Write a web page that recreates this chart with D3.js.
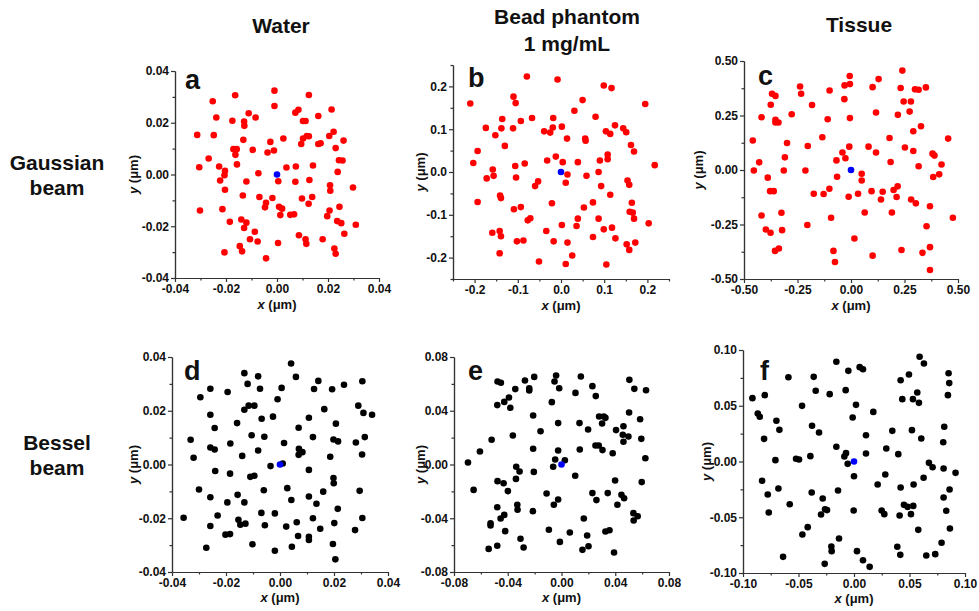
<!DOCTYPE html>
<html>
<head>
<meta charset="utf-8">
<script src="https://cdn.jsdelivr.net/npm/d3@7"></script>
<style>
  body { margin: 0; background: #fff; }
  svg text { font-family: Arial, "Liberation Sans", sans-serif; font-weight: bold; fill: #111; }
</style>
</head>
<body>
<div id="my_dataviz"></div>
<script>
// column / row labels
const columnTitles = [["Water"], ["Bead phantom", "1 mg/mL"], ["Tissue"]]
const rowTitles = [["Gaussian", "beam"], ["Bessel", "beam"]]
const panelLetters = ["a", "b", "c", "d", "e", "f"]

// tick values
const ticksA = [-0.04, -0.02, 0, 0.02, 0.04]
const minorA = [-0.03, -0.01, 0.01, 0.03]
const ticksB = [-0.2, -0.1, 0, 0.1, 0.2]
const minorB = [-0.25, -0.15, -0.05, 0.05, 0.15, 0.25]
const ticksC = [-0.5, -0.25, 0, 0.25, 0.5]
const minorC = [-0.375, -0.125, 0.125, 0.375]
const ticksE = [-0.08, -0.04, 0, 0.04, 0.08]
const minorE = [-0.06, -0.02, 0.02, 0.06]
const ticksF = [-0.1, -0.05, 0, 0.05, 0.1]
const minorF = [-0.075, -0.025, 0.025, 0.075]

// localisation points [x, y] in um
const waterGauss = [
  [-0.0010, 0.0324], [-0.0164, 0.0306], [0.0125, 0.0307], [-0.0252, 0.0283], [-0.0010, 0.0265],
  [0.0214, 0.0251], [0.0084, 0.0250], [0.0072, 0.0239], [-0.0111, 0.0237], [-0.0238, 0.0220],
  [-0.0084, 0.0220], [0.0162, 0.0226], [-0.0175, 0.0208], [-0.0129, 0.0205], [0.0102, 0.0207],
  [0.0112, 0.0207], [-0.0128, 0.0188], [-0.0313, 0.0153], [-0.0248, 0.0152], [0.0222, 0.0165],
  [0.0205, 0.0149], [0.0117, 0.0149], [0.0125, 0.0148], [0.0102, 0.0139], [0.0025, 0.0139],
  [-0.0132, 0.0134], [0.0261, 0.0131], [-0.0026, 0.0126], [0.0162, 0.0118], [0.0171, 0.0121],
  [0.0095, 0.0118], [-0.0171, 0.0098], [-0.0158, 0.0098], [-0.0095, 0.0095], [-0.0012, 0.0093],
  [-0.0037, 0.0085], [0.0230, 0.0102], [-0.0163, 0.0076], [-0.0268, 0.0062], [0.0243, 0.0055],
  [0.0257, 0.0054], [-0.0157, 0.0039], [0.0141, 0.0035], [-0.0305, 0.0028], [-0.0227, 0.0031],
  [0.0037, 0.0027], [0.0074, 0.0031], [-0.0204, 0.0014], [0.0238, 0.0010], [-0.0073, 0.0005],
  [-0.0206, -0.0003], [-0.0223, -0.0023], [0.0127, -0.0021], [0.0005, -0.0026], [-0.0120, -0.0027],
  [0.0072, -0.0028], [0.0208, -0.0042], [0.0298, -0.0050], [0.0209, -0.0063], [-0.0204, -0.0059],
  [-0.0134, -0.0081], [-0.0069, -0.0087], [0.0138, -0.0087], [-0.0018, -0.0091], [0.0098, -0.0093],
  [-0.0043, -0.0109], [0.0124, -0.0113], [-0.0047, -0.0127], [0.0008, -0.0125], [0.0020, -0.0132],
  [-0.0302, -0.0139], [-0.0214, -0.0134], [0.0206, -0.0139], [0.0245, -0.0125], [0.0013, -0.0157],
  [0.0052, -0.0156], [0.0067, -0.0154], [0.0197, -0.0161], [-0.0140, -0.0174], [-0.0185, -0.0183],
  [-0.0120, -0.0186], [0.0236, -0.0180], [0.0252, -0.0188], [0.0309, -0.0194], [-0.0129, -0.0207],
  [-0.0087, -0.0221], [0.0264, -0.0229], [0.0086, -0.0235], [-0.0106, -0.0250], [-0.0076, -0.0259],
  [0.0112, -0.0250], [0.0115, -0.0268], [0.0004, -0.0265], [0.0179, -0.0250], [-0.0146, -0.0277],
  [0.0225, -0.0286], [-0.0206, -0.0301], [-0.0137, -0.0297], [0.0230, -0.0306], [-0.0043, -0.0324]
]
const beadGauss = [
  [-0.079, 0.223], [-0.008, 0.216], [-0.210, 0.160], [0.099, 0.202], [0.117, 0.196],
  [0.195, 0.159], [-0.110, 0.176], [-0.105, 0.161], [0.050, 0.168], [0.031, 0.143],
  [0.080, 0.129], [-0.136, 0.124], [-0.067, 0.126], [-0.018, 0.126], [-0.093, 0.119],
  [-0.174, 0.103], [-0.138, 0.102], [-0.111, 0.102], [-0.019, 0.104], [0.002, 0.106],
  [0.125, 0.109], [0.144, 0.102], [-0.039, 0.095], [-0.025, 0.092], [0.104, 0.095],
  [0.114, 0.089], [0.151, 0.093], [-0.152, 0.086], [0.014, 0.078], [0.056, 0.078],
  [0.057, 0.073], [-0.130, 0.061], [0.162, 0.063], [-0.193, 0.049], [0.169, 0.048],
  [0.108, 0.041], [-0.012, 0.036], [-0.032, 0.027], [0.090, 0.027], [0.108, 0.030],
  [-0.203, 0.021], [-0.084, 0.020], [0.004, 0.023], [0.039, 0.023], [0.217, 0.016],
  [-0.106, 0.014], [-0.158, 0.006], [0.087, 0.000], [-0.156, -0.009], [0.015, -0.006],
  [0.059, -0.009], [-0.104, -0.013], [-0.172, -0.015], [-0.053, -0.022], [0.154, -0.020],
  [0.011, -0.025], [-0.060, -0.033], [0.158, -0.030], [0.093, -0.033], [-0.141, -0.055],
  [-0.139, -0.061], [0.114, -0.053], [-0.193, -0.070], [-0.021, -0.073], [0.074, -0.071],
  [0.164, -0.072], [-0.093, -0.082], [-0.109, -0.087], [0.053, -0.083], [0.159, -0.093],
  [0.166, -0.095], [-0.071, -0.108], [-0.077, -0.113], [0.039, -0.109], [0.087, -0.109],
  [0.169, -0.109], [0.002, -0.124], [0.036, -0.126], [0.203, -0.120], [-0.034, -0.138],
  [0.118, -0.130], [0.099, -0.134], [-0.142, -0.138], [-0.159, -0.142], [-0.139, -0.150],
  [0.074, -0.152], [0.126, -0.155], [-0.102, -0.162], [-0.087, -0.160], [-0.017, -0.162],
  [0.015, -0.165], [0.152, -0.169], [0.172, -0.165], [0.158, -0.182], [-0.142, -0.190],
  [0.026, -0.195], [-0.051, -0.209], [0.011, -0.215], [0.105, -0.216]
]
const tissueGauss = [
  [0.240, 0.456], [-0.006, 0.431], [0.129, 0.417], [-0.005, 0.394], [-0.030, 0.388],
  [-0.238, 0.383], [0.101, 0.380], [0.232, 0.376], [0.299, 0.370], [0.316, 0.368],
  [0.350, 0.379], [-0.100, 0.365], [-0.369, 0.350], [-0.233, 0.350], [-0.353, 0.340],
  [-0.031, 0.325], [0.246, 0.314], [0.280, 0.314], [-0.375, 0.299], [-0.182, 0.298],
  [0.274, 0.268], [0.117, 0.264], [-0.277, 0.256], [0.219, 0.253], [-0.418, 0.242],
  [-0.005, 0.238], [-0.109, 0.233], [-0.353, 0.230], [-0.353, 0.218], [-0.339, 0.218],
  [0.327, 0.201], [0.291, 0.178], [-0.134, 0.150], [0.180, 0.147], [0.454, 0.144],
  [-0.459, 0.135], [-0.299, 0.124], [-0.202, 0.110], [-0.008, 0.107], [0.082, 0.107],
  [0.252, 0.103], [0.291, 0.087], [0.117, 0.080], [-0.040, 0.080], [0.381, 0.075],
  [0.390, 0.066], [-0.309, 0.058], [-0.026, 0.054], [-0.068, 0.044], [0.185, 0.037],
  [-0.429, 0.035], [0.423, 0.025], [0.316, 0.017], [-0.454, -0.002], [-0.314, -0.002],
  [-0.213, -0.002], [0.050, -0.017], [0.412, -0.020], [-0.065, -0.031], [0.384, -0.032],
  [-0.389, -0.035], [0.050, -0.048], [0.218, -0.075], [-0.101, -0.086], [0.199, -0.092],
  [-0.378, -0.097], [-0.361, -0.097], [0.096, -0.097], [0.148, -0.100], [-0.174, -0.109],
  [-0.128, -0.110], [0.033, -0.109], [-0.011, -0.123], [0.213, -0.124], [0.140, -0.135],
  [0.281, -0.135], [0.303, -0.153], [0.369, -0.166], [-0.325, -0.196], [0.064, -0.195],
  [0.191, -0.195], [-0.418, -0.209], [-0.093, -0.219], [0.476, -0.219], [-0.204, -0.252],
  [0.353, -0.258], [-0.398, -0.273], [-0.322, -0.276], [-0.376, -0.288], [0.016, -0.314],
  [0.369, -0.354], [-0.337, -0.360], [-0.355, -0.371], [-0.082, -0.371], [0.236, -0.367],
  [0.334, -0.380], [0.101, -0.393], [-0.075, -0.422], [0.369, -0.459]
]
const waterBessel = [
  [0.0041, 0.0376], [-0.0132, 0.0340], [-0.0081, 0.0328], [0.0059, 0.0326], [0.0142, 0.0311],
  [0.0305, 0.0310], [-0.0120, 0.0300], [0.0237, 0.0297], [-0.0258, 0.0282], [-0.0074, 0.0282],
  [0.0006, 0.0285], [0.0126, 0.0281], [0.0193, 0.0280], [-0.0194, 0.0270], [-0.0295, 0.0250],
  [-0.0009, 0.0243], [-0.0116, 0.0219], [-0.0095, 0.0219], [-0.0132, 0.0204], [0.0290, 0.0219],
  [0.0164, 0.0206], [0.0309, 0.0192], [0.0341, 0.0185], [-0.0258, 0.0185], [-0.0026, 0.0178],
  [0.0107, 0.0174], [-0.0068, 0.0170], [-0.0159, 0.0154], [0.0207, 0.0152], [-0.0242, 0.0136],
  [0.0069, 0.0137], [-0.0105, 0.0109], [-0.0058, 0.0103], [0.0122, 0.0102], [0.0314, 0.0102],
  [-0.0331, 0.0092], [0.0198, 0.0093], [0.0215, 0.0086], [0.0281, 0.0082], [-0.0184, 0.0078],
  [0.0015, 0.0080], [-0.0258, 0.0063], [-0.0242, 0.0056], [0.0070, 0.0058], [-0.0081, 0.0052],
  [0.0083, 0.0046], [0.0069, 0.0036], [0.0304, 0.0037], [-0.0140, 0.0032], [-0.0320, 0.0025],
  [0.0186, 0.0029], [0.0010, 0.0004], [-0.0035, -0.0006], [-0.0240, -0.0024], [0.0107, -0.0020],
  [-0.0185, -0.0034], [-0.0095, -0.0042], [-0.0110, -0.0046], [0.0198, -0.0050], [0.0199, -0.0070],
  [-0.0300, -0.0093], [0.0027, -0.0088], [-0.0060, -0.0096], [0.0295, -0.0098], [0.0160, -0.0101],
  [-0.0157, -0.0113], [-0.0258, -0.0122], [0.0107, -0.0119], [0.0042, -0.0132], [-0.0195, -0.0141],
  [-0.0132, -0.0141], [0.0135, -0.0146], [0.0214, -0.0165], [-0.0069, -0.0180], [-0.0019, -0.0182],
  [-0.0357, -0.0198], [-0.0231, -0.0190], [0.0122, -0.0200], [0.0305, -0.0199], [-0.0154, -0.0206],
  [-0.0147, -0.0224], [-0.0128, -0.0220], [0.0062, -0.0215], [0.0201, -0.0218], [-0.0258, -0.0229],
  [-0.0056, -0.0226], [0.0023, -0.0231], [0.0149, -0.0239], [0.0278, -0.0244], [-0.0202, -0.0261],
  [-0.0185, -0.0259], [0.0067, -0.0266], [0.0107, -0.0269], [0.0107, -0.0281], [0.0196, -0.0296],
  [-0.0102, -0.0297], [-0.0273, -0.0310], [0.0044, -0.0306], [-0.0019, -0.0321], [0.0205, -0.0353]
]
const beadBessel = [
  [-0.0040, 0.0662], [-0.0272, 0.0625], [-0.0203, 0.0652], [0.0144, 0.0655], [-0.0476, 0.0618],
  [-0.0451, 0.0608], [-0.0052, 0.0618], [0.0505, 0.0630], [0.0230, 0.0583], [-0.0017, 0.0568],
  [-0.0344, 0.0561], [-0.0240, 0.0568], [-0.0240, 0.0551], [0.0542, 0.0563], [0.0629, 0.0553],
  [0.0104, 0.0533], [0.0255, 0.0509], [-0.0391, 0.0499], [-0.0426, 0.0466], [-0.0072, 0.0464],
  [-0.0478, 0.0442], [-0.0381, 0.0422], [0.0503, 0.0387], [-0.0211, 0.0365], [0.0280, 0.0357],
  [0.0315, 0.0357], [0.0327, 0.0347], [0.0585, 0.0337], [-0.0025, 0.0308], [0.0134, 0.0308],
  [0.0302, 0.0305], [0.0461, 0.0285], [0.0198, 0.0260], [0.0406, 0.0256], [-0.0156, 0.0248],
  [-0.0362, 0.0216], [0.0456, 0.0221], [0.0498, 0.0208], [-0.0520, 0.0184], [0.0594, 0.0191],
  [0.0461, 0.0169], [0.0253, 0.0141], [0.0277, 0.0141], [-0.0211, 0.0117], [0.0136, 0.0112],
  [0.0305, 0.0107], [-0.0607, 0.0097], [-0.0025, 0.0104], [0.0381, 0.0084], [0.0624, 0.0047],
  [-0.0047, 0.0037], [0.0025, 0.0032], [-0.0696, 0.0015], [-0.0062, -0.0017], [-0.0337, -0.0017],
  [-0.0312, -0.0052], [-0.0206, -0.0055], [0.0102, -0.0084], [-0.0339, -0.0107], [-0.0476, -0.0124],
  [0.0399, -0.0119], [0.0597, -0.0131], [-0.0431, -0.0139], [-0.0399, -0.0198], [-0.0111, -0.0216],
  [-0.0654, -0.0189], [0.0230, -0.0213], [0.0344, -0.0213], [0.0446, -0.0226], [0.0466, -0.0251],
  [0.0260, -0.0265], [-0.0025, -0.0260], [-0.0057, -0.0300], [0.0416, -0.0300], [-0.0478, -0.0318],
  [-0.0329, -0.0300], [-0.0327, -0.0337], [-0.0213, -0.0347], [0.0535, -0.0362], [0.0567, -0.0385],
  [-0.0426, -0.0375], [-0.0453, -0.0402], [0.0166, -0.0402], [0.0537, -0.0417], [-0.0528, -0.0437],
  [-0.0528, -0.0454], [-0.0094, -0.0486], [0.0357, -0.0489], [0.0327, -0.0499], [0.0062, -0.0506],
  [-0.0419, -0.0496], [0.0191, -0.0528], [-0.0305, -0.0553], [-0.0012, -0.0576], [-0.0478, -0.0605],
  [0.0201, -0.0608], [-0.0542, -0.0628], [-0.0282, -0.0618], [0.0156, -0.0635], [0.0391, -0.0655]
]
const tissueBessel = [
  [0.0591, 0.0939], [0.0630, 0.0879], [-0.0159, 0.0894], [0.0051, 0.0846], [0.0081, 0.0828],
  [-0.0051, 0.0813], [0.0852, 0.0792], [0.0495, 0.0780], [-0.0591, 0.0756], [-0.0363, 0.0759],
  [0.0420, 0.0729], [0.0858, 0.0703], [-0.0345, 0.0634], [-0.0075, 0.0640], [0.0570, 0.0619],
  [-0.0915, 0.0568], [-0.0804, 0.0595], [-0.0219, 0.0604], [0.0846, 0.0595], [0.0435, 0.0559],
  [0.0531, 0.0559], [0.0585, 0.0526], [-0.0468, 0.0499], [0.0018, 0.0508], [-0.0867, 0.0430],
  [-0.0849, 0.0401], [0.0174, 0.0445], [-0.0012, 0.0395], [-0.0699, 0.0365], [-0.0378, 0.0320],
  [0.0813, 0.0311], [-0.0672, 0.0284], [-0.0315, 0.0260], [0.0345, 0.0275], [0.0522, 0.0281],
  [0.0108, 0.0236], [-0.0810, 0.0203], [0.0606, 0.0206], [0.0804, 0.0173], [-0.0159, 0.0132],
  [0.0291, 0.0117], [-0.0072, 0.0075], [-0.0087, 0.0045], [-0.0393, 0.0048], [0.0108, 0.0072],
  [0.0399, 0.0066], [-0.0708, 0.0012], [-0.0522, 0.0024], [-0.0495, 0.0018], [-0.0057, -0.0021],
  [0.0675, -0.0012], [0.0708, -0.0051], [0.0807, -0.0063], [0.0915, -0.0102], [0.0000, -0.0132],
  [0.0282, -0.0117], [0.0627, -0.0146], [-0.0828, -0.0173], [0.0213, -0.0206], [0.0537, -0.0206],
  [-0.0681, -0.0242], [0.0420, -0.0233], [0.0861, -0.0251], [-0.0381, -0.0278], [-0.0144, -0.0260],
  [-0.0777, -0.0296], [-0.0282, -0.0332], [0.0807, -0.0323], [-0.0579, -0.0383], [0.0450, -0.0389],
  [0.0483, -0.0407], [0.0534, -0.0398], [-0.0768, -0.0457], [-0.0261, -0.0428], [-0.0243, -0.0436],
  [-0.0297, -0.0475], [-0.0003, -0.0439], [0.0249, -0.0439], [0.0273, -0.0472], [0.0411, -0.0484],
  [0.0513, -0.0472], [0.0831, -0.0442], [-0.0417, -0.0589], [0.0579, -0.0613], [0.0864, -0.0601],
  [-0.0465, -0.0655], [-0.0135, -0.0691], [-0.0204, -0.0763], [-0.0201, -0.0804], [0.0390, -0.0765],
  [0.0789, -0.0729], [0.0027, -0.0804], [-0.0639, -0.0855], [0.0417, -0.0837], [0.0651, -0.0843],
  [0.0732, -0.0831], [0.0081, -0.0885], [-0.0264, -0.0918], [0.0141, -0.0945]
]
const centerPoint = [0, 0]

const svg = d3.select("#my_dataviz")
  .append("svg")
  .attr("width", 979)
  .attr("height", 611)

// panel layout (pixel boxes of the plot areas)
const panels = [
  { pts: waterGauss, color: "#ff0000", dom: 0.04, ticks: ticksA, minor: minorA, fmt: 2,
    x0: 175, x1: 379, y0: 71, y1: 278, yTitle: 42, xTitle: 31, lx: 10, ly: 18 },
  { pts: beadGauss, color: "#ff0000", dom: 0.25, ticks: ticksB, minor: minorB, fmt: 1,
    x0: 453, x1: 669, y0: 65, y1: 279, yTitle: 33, xTitle: 31, lx: 15, ly: 22 },
  { pts: tissueGauss, color: "#ff0000", dom: 0.5, ticks: ticksC, minor: minorC, fmt: 2,
    x0: 744, x1: 958, y0: 61, y1: 279, yTitle: 46, xTitle: 31, lx: 14, ly: 24 },
  { pts: waterBessel, color: "#000000", dom: 0.04, ticks: ticksA, minor: minorA, fmt: 2,
    x0: 172, x1: 388, y0: 357, y1: 572, yTitle: 39, xTitle: 30, lx: 12, ly: 23 },
  { pts: beadBessel, color: "#000000", dom: 0.08, ticks: ticksE, minor: minorE, fmt: 2,
    x0: 454, x1: 669, y0: 357, y1: 572, yTitle: 34, xTitle: 30, lx: 14, ly: 23 },
  { pts: tissueBessel, color: "#000000", dom: 0.1, ticks: ticksF, minor: minorF, fmt: 2,
    x0: 743, x1: 965, y0: 350, y1: 573, yTitle: 37, xTitle: 30, lx: 17, ly: 30 }
]

panels.forEach((p, i) => {
  const x = d3.scaleLinear().domain([-p.dom, p.dom]).range([p.x0, p.x1])
  const y = d3.scaleLinear().domain([-p.dom, p.dom]).range([p.y1, p.y0])
  const g = svg.append("g")

  // minor ticks
  g.append("g")
    .attr("transform", `translate(0,${p.y1})`)
    .call(d3.axisBottom(x).tickValues(p.minor).tickSize(2.5).tickSizeOuter(0).tickFormat(""))
  g.append("g")
    .attr("transform", `translate(${p.x0},0)`)
    .call(d3.axisLeft(y).tickValues(p.minor).tickSize(2.5).tickSizeOuter(0).tickFormat(""))

  // major ticks
  const fmt = d => (Math.abs(d) < 1e-9 ? 0 : d).toFixed(p.fmt)
  g.append("g")
    .attr("class", "xaxis")
    .attr("transform", `translate(0,${p.y1})`)
    .call(d3.axisBottom(x).tickValues(p.ticks).tickSize(4).tickSizeOuter(0).tickPadding(2).tickFormat(fmt))
  g.append("g")
    .attr("class", "yaxis")
    .attr("transform", `translate(${p.x0},0)`)
    .call(d3.axisLeft(y).tickValues(p.ticks).tickSize(4).tickSizeOuter(0).tickPadding(2).tickFormat(fmt))

  g.selectAll(".domain, .tick line").attr("stroke", "#333").attr("stroke-width", 1.2)
  g.selectAll(".tick text")
    .style("font-size", "12px")
    .style("font-family", "Arial, 'Liberation Sans', sans-serif")
    .style("font-weight", "bold")
    .attr("fill", "#111")

  // axis titles
  const xt = g.append("text")
    .attr("x", (p.x0 + p.x1) / 2)
    .attr("y", p.y1 + p.xTitle)
    .attr("text-anchor", "middle")
    .style("font-size", "13px")
  xt.append("tspan").style("font-style", "italic").text("x")
  xt.append("tspan").text(" (μm)")

  const yt = g.append("text")
    .attr("transform", `translate(${p.x0 - p.yTitle},${(p.y0 + p.y1) / 2}) rotate(-90)`)
    .attr("text-anchor", "middle")
    .attr("dy", "0.35em")
    .style("font-size", "13px")
  yt.append("tspan").style("font-style", "italic").text("y")
  yt.append("tspan").text(" (μm)")

  // points
  g.selectAll(".pt")
    .data(p.pts)
    .enter()
    .append("circle")
    .attr("cx", d => x(d[0]))
    .attr("cy", d => y(d[1]))
    .attr("r", 3.3)
    .attr("fill", p.color)

  g.append("circle")
    .attr("cx", x(centerPoint[0]))
    .attr("cy", y(centerPoint[1]))
    .attr("r", 3.3)
    .attr("fill", "#0000ff")

  // panel letter
  g.append("text")
    .attr("x", p.x0 + p.lx)
    .attr("y", p.y0 + p.ly)
    .style("font-size", "27px")
    .text(panelLetters[i])
})

// column titles
const colCenters = [281, 567, 859]
const colBaselines = [33, 24, 32]
columnTitles.forEach((lines, i) => {
  lines.forEach((t, j) => {
    svg.append("text")
      .attr("x", colCenters[i])
      .attr("y", colBaselines[i] + j * 27)
      .attr("text-anchor", "middle")
      .style("font-size", "21px")
      .text(t)
  })
})

// row titles
const rowBaselines = [170, 450]
rowTitles.forEach((lines, i) => {
  lines.forEach((t, j) => {
    svg.append("text")
      .attr("x", 57)
      .attr("y", rowBaselines[i] + j * 25)
      .attr("text-anchor", "middle")
      .style("font-size", "21px")
      .text(t)
  })
})
</script>
</body>
</html>
